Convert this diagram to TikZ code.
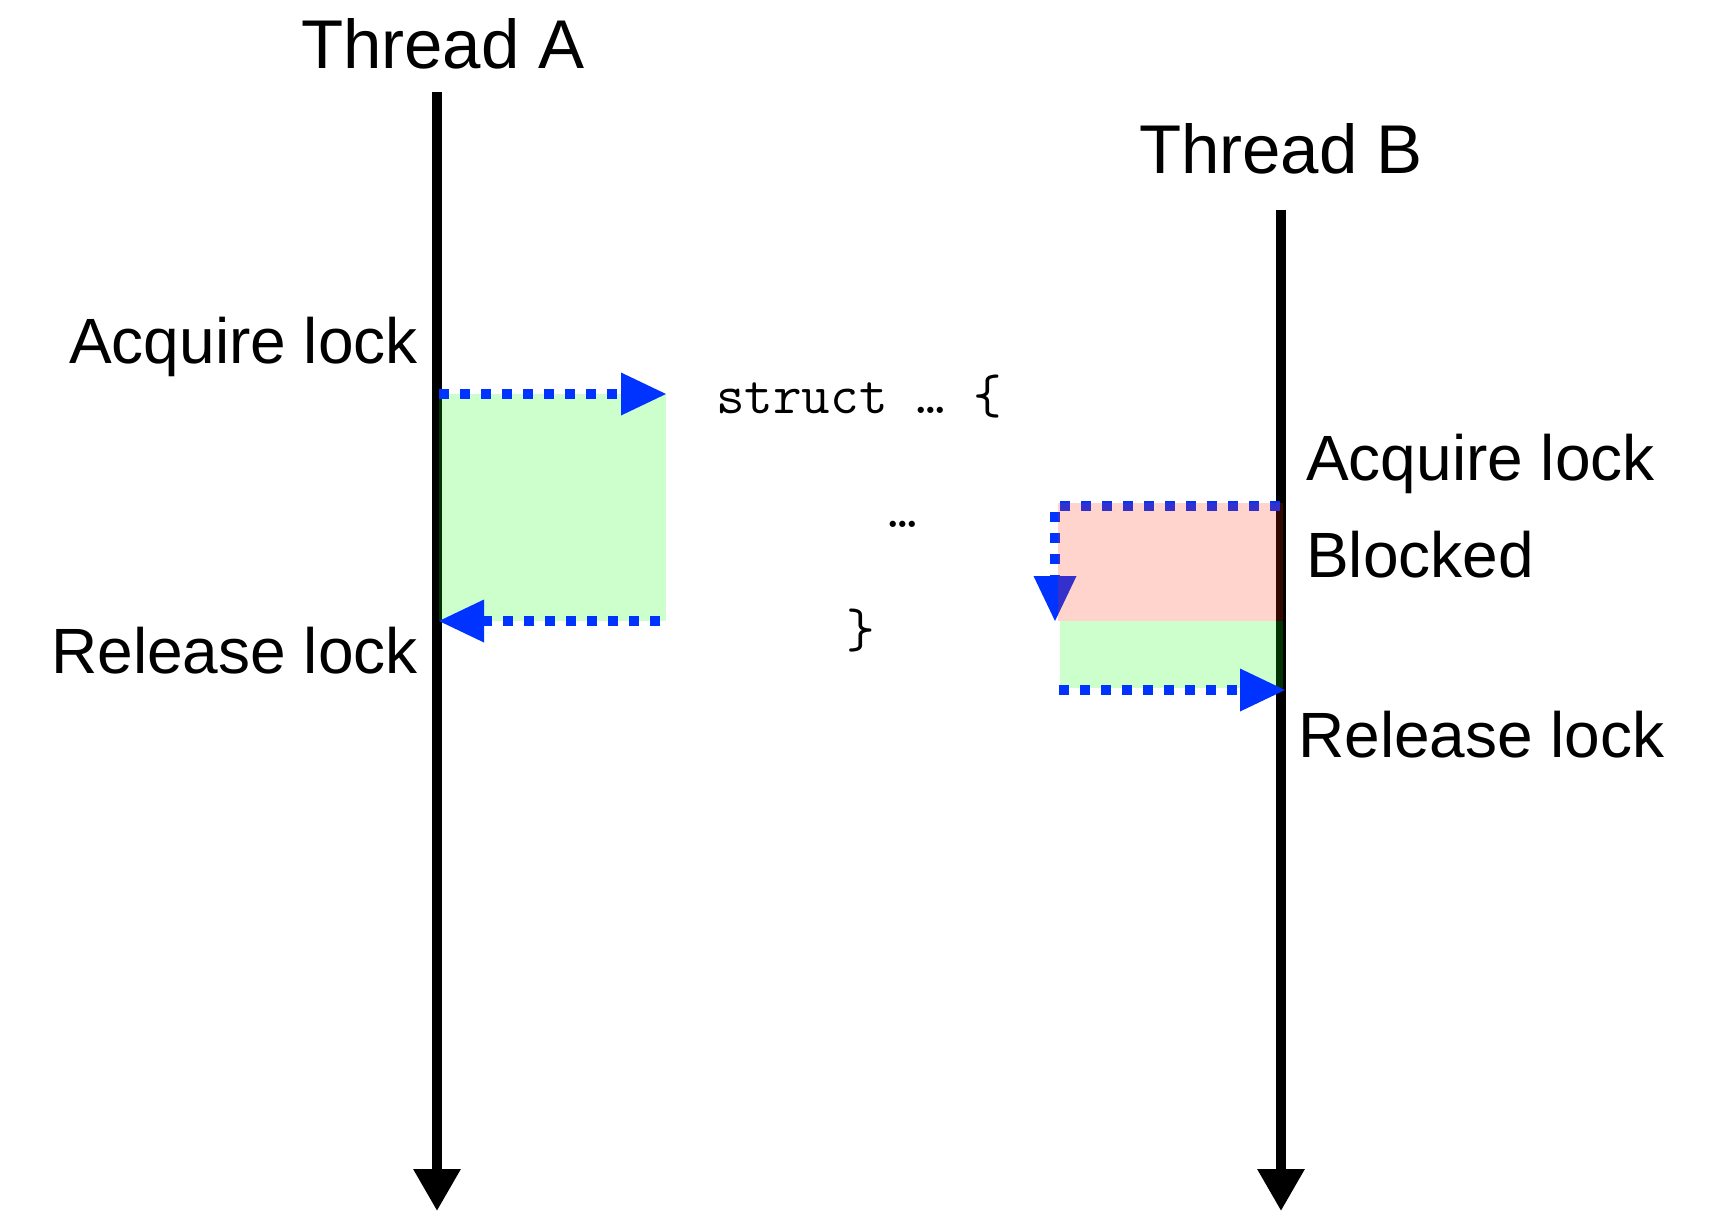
\documentclass[tikz,border=0pt]{standalone}
\usepackage{fontspec}
\setmainfont{Liberation Sans}
\setmonofont{Latin Modern Mono}
\usetikzlibrary{arrows.meta}
\definecolor{lockblue}{RGB}{0,51,255}
\tikzset{
  thread/.style={line width=9.5pt,draw=black,-{Triangle[length=42pt,width=45pt]}},
  dotarrow/.style={line width=10pt,draw=lockblue,dash pattern=on 10pt off 11pt,
    -{Triangle[length=45pt,width=43pt,fill=lockblue,line width=0pt]}},
  held/.style={fill={rgb,255:red,0;green,255;blue,0},fill opacity=0.2,draw=none},
  wait/.style={fill={rgb,255:red,255;green,40;blue,0},fill opacity=0.2,draw=none},
  title/.style={inner sep=0pt,anchor=base,font=\fontsize{69pt}{80pt}\selectfont},
  lbl/.style={inner sep=0pt,font=\fontsize{64pt}{74pt}\selectfont},
  code/.style={inner sep=0pt,font=\ttfamily\fontsize{55.5pt}{62pt}\selectfont}
}
\begin{document}
\begin{tikzpicture}[x=1pt,y=-1pt]
\useasboundingbox (0,0) rectangle (1717,1211);
% threads
\coordinate (Atop) at (437,92);
\coordinate (Abot) at (437,1211);
\coordinate (Btop) at (1281,210);
\coordinate (Bbot) at (1281,1211);
\node[title] (TA) at (443,68) {Thread A};
\node[title] (TB) at (1281,173) {Thread B};
\draw[thread] (Atop) -- (Abot);
\draw[thread] (Btop) -- (Bbot);
% thread A critical section
\coordinate (A1) at (439,394);
\coordinate (A2) at (666,394);
\coordinate (A3) at (660,621);
\coordinate (A4) at (439,621);
\fill[held] (439,394) rectangle (666,621);
\draw[dotarrow] (A1) -- (A2);
\draw[dotarrow] (A3) -- (A4);
\node[lbl,anchor=base east] (acqA) at (418,363) {Acquire lock};
\node[lbl,anchor=base east] (relA) at (418,673) {Release lock};
% code
\node[code,anchor=base west] (c1) at (716,413) {struct … \{};
\node[code,anchor=base] (c2) at (903,527) {…};
\node[code,anchor=base] (c3) at (861,647) {\}};
% thread B
\coordinate (B1) at (1280,506);
\coordinate (B2) at (1055,506);
\coordinate (B3) at (1055,621);
\draw[dotarrow] (B1) -- (B2) -- (B3);
\fill[wait] (1058,503) rectangle (1283,621);
\fill[held] (1060,621) rectangle (1283,688);
\coordinate (B4) at (1059,690);
\coordinate (B5) at (1285,690);
\draw[dotarrow] (B4) -- (B5);
\node[lbl,anchor=base west] (acqB) at (1306,480) {Acquire lock};
\node[lbl,anchor=base west] (blk) at (1306,577) {Blocked};
\node[lbl,anchor=base west] (relB) at (1298,757) {Release lock};
\end{tikzpicture}
\end{document}
